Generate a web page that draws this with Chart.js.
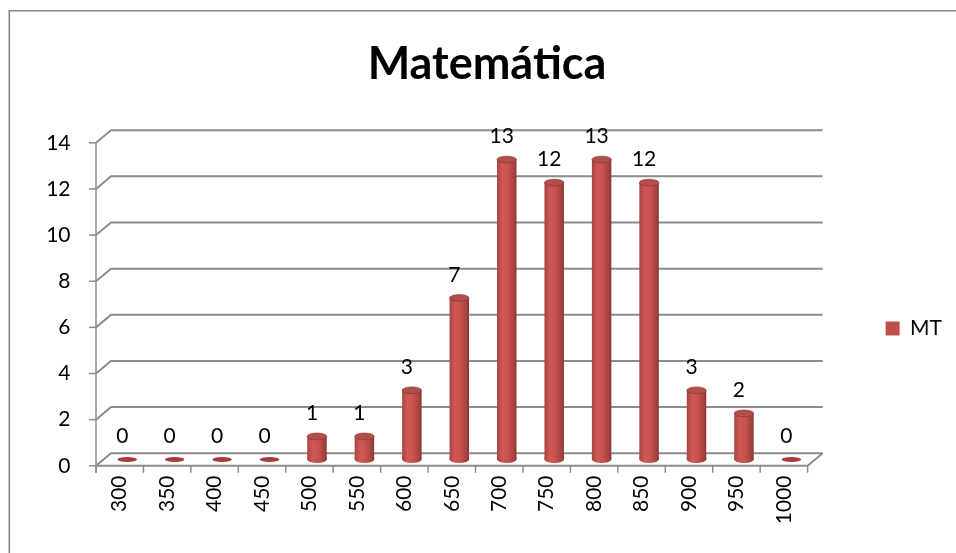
<!DOCTYPE html>
<html>
<head>
<meta charset="utf-8">
<script src="https://cdn.jsdelivr.net/npm/chart.js@4/dist/chart.umd.min.js"></script>
<style>
html,body{margin:0;padding:0;background:#fff}
#wrap{width:956px;height:553px;position:relative}
</style>
</head>
<body>
<div id="wrap"><canvas id="c"></canvas></div>
<script>
// ---- data ----
const chartTitle = 'Matemática';
const categories = ['300','350','400','450','500','550','600','650','700','750','800','850','900','950','1000'];
const seriesName = 'MT';
const mtValues = [0,0,0,0,1,1,3,7,13,12,13,12,3,2,0];
const yTicks = [0,2,4,6,8,10,12,14];

// ---- style ----
const FONT = 'Lato, "Open Sans", sans-serif';
const DX = 7.5, DY = 6.3;          // pseudo-3D depth offset
const BAR_PCT = 0.41;
const GRID = '#8c8c8c';

function barGradient(ctx) {
  const chart = ctx.chart;
  const xs = chart.scales && chart.scales.x;
  if (!xs || !chart.chartArea || ctx.dataIndex === undefined) return '#C0504D';
  const cx = xs.getPixelForValue(ctx.dataIndex);
  const hw = xs.width / categories.length * BAR_PCT / 2;
  const g = chart.ctx.createLinearGradient(cx - hw, 0, cx + hw, 0);
  g.addColorStop(0, '#a9423f');
  g.addColorStop(0.28, '#cf5955');
  g.addColorStop(0.55, '#c9534f');
  g.addColorStop(0.85, '#a9433f');
  g.addColorStop(1, '#8a3331');
  return g;
}

const deco = {
  id: 'deco',
  beforeDraw(chart) {
    const c = chart.ctx;
    c.save();
    c.strokeStyle = '#878787';
    c.lineWidth = 1.6;
    c.beginPath();
    c.moveTo(9.3, 553); c.lineTo(9.3, 10.8); c.lineTo(956, 10.8);
    c.stroke();
    c.restore();
  },
  beforeDatasetsDraw(chart) {
    const c = chart.ctx, ca = chart.chartArea, x = chart.scales.x, y = chart.scales.y;
    const L = ca.left, R = ca.right;
    const y0 = y.getPixelForValue(0);
    const yTop = y.getPixelForValue(yTicks[yTicks.length - 1]);
    c.save();
    c.strokeStyle = GRID;
    yTicks.forEach(v => {
      const py = y.getPixelForValue(v);
      c.lineWidth = 2;
      c.beginPath();
      c.moveTo(L - DX, py + DY); c.lineTo(L + DX, py - DY); c.lineTo(R + DX, py - DY);
      c.stroke();
      c.lineWidth = 1.5;
      c.beginPath();
      c.moveTo(L - DX - 7, py + DY); c.lineTo(L - DX, py + DY);
      c.stroke();
    });
    c.lineWidth = 1.5;
    c.beginPath();
    c.moveTo(L - DX, yTop + DY); c.lineTo(L - DX, y0 + DY + 7);
    c.stroke();
    c.lineWidth = 2;
    c.beginPath();
    c.moveTo(L - DX, y0 + DY); c.lineTo(R - DX, y0 + DY); c.lineTo(R + DX, y0 - DY);
    c.stroke();
    c.lineWidth = 1.5;
    for (let i = 0; i <= categories.length; i++) {
      const px = x.getPixelForValue(i - 0.5) - DX;
      c.beginPath();
      c.moveTo(px, y0 + DY); c.lineTo(px, y0 + DY + 7);
      c.stroke();
    }
    c.restore();
  },
  afterDatasetsDraw(chart) {
    const c = chart.ctx, y = chart.scales.y;
    const meta = chart.getDatasetMeta(0);
    const y0 = y.getPixelForValue(0);
    c.save();
    meta.data.forEach((bar, i) => {
      const v = mtValues[i];
      const props = bar.getProps(['x', 'y', 'width'], true);
      const cx = props.x, hw = props.width / 2, ry = 3.4;
      const fill = barGradient({chart, dataIndex: i});
      if (v === 0) {
        c.fillStyle = '#a33c3a';
        c.beginPath(); c.ellipse(cx, y0, hw, 2.6, 0, 0, Math.PI * 2); c.fill();
      } else {
        c.fillStyle = fill;
        c.beginPath();
        c.moveTo(cx - hw, y0 - 2);
        c.lineTo(cx + hw, y0 - 2);
        c.lineTo(cx + hw, y0);
        c.ellipse(cx, y0, hw, ry, 0, 0, Math.PI);
        c.closePath();
        c.fill();
        c.fillStyle = '#b0504d';
        c.beginPath(); c.ellipse(cx, props.y, hw, ry, 0, 0, Math.PI * 2); c.fill();
        c.strokeStyle = 'rgba(140,50,48,0.8)';
        c.lineWidth = 0.8;
        c.stroke();
      }
      c.fillStyle = '#000';
      c.font = '21px ' + FONT;
      c.textAlign = 'center';
      c.textBaseline = 'middle';
      c.fillText(String(v), cx - 5, props.y - 23);
    });
    c.restore();
  }
};

new Chart(document.getElementById('c'), {
  type: 'bar',
  data: {
    labels: categories,
    datasets: [{
      label: seriesName,
      data: mtValues,
      backgroundColor: barGradient,
      borderWidth: 0,
      barPercentage: BAR_PCT,
      categoryPercentage: 1
    }]
  },
  options: {
    responsive: true,
    maintainAspectRatio: false,
    animation: false,
    events: [],
    layout: { padding: { left: 22, right: 4, top: 0, bottom: 0 } },
    scales: {
      x: {
        grid: { display: false, drawTicks: false },
        border: { display: false },
        ticks: {
          autoSkip: false, minRotation: 90, maxRotation: 90,
          padding: 16, labelOffset: -DX,
          color: '#000', font: { family: FONT, size: 21 }
        },
        afterFit: s => { s.height = 93.5; }
      },
      y: {
        min: 0, max: 14,
        grid: { display: false, drawTicks: false },
        border: { display: false },
        ticks: {
          stepSize: 2, padding: 33, labelOffset: DY,
          color: '#000', font: { family: FONT, size: 21 }
        },
        afterFit: s => { s.width = 81.5; }
      }
    },
    plugins: {
      title: {
        display: true, text: chartTitle, color: '#000',
        font: { family: FONT, size: 45, weight: 'bold', lineHeight: 1.2 },
        padding: { top: 37, bottom: 45.5 }
      },
      legend: {
        position: 'right',
        fullSize: false,
        align: 'start',
        title: { display: true, text: '', font: { size: 10, lineHeight: 1 }, padding: { top: 101, bottom: 0 } },
        labels: {
          boxWidth: 14, boxHeight: 14, padding: 70.5,
          color: '#000', font: { family: FONT, size: 21 },
          generateLabels: (chart) => {
            const items = Chart.defaults.plugins.legend.labels.generateLabels(chart);
            items.forEach(it => { it.fillStyle = '#C0504D'; it.strokeStyle = '#C0504D'; it.lineWidth = 0; });
            return items;
          }
        }
      },
      tooltip: { enabled: false }
    }
  },
  plugins: [deco]
});
</script>
</body>
</html>
